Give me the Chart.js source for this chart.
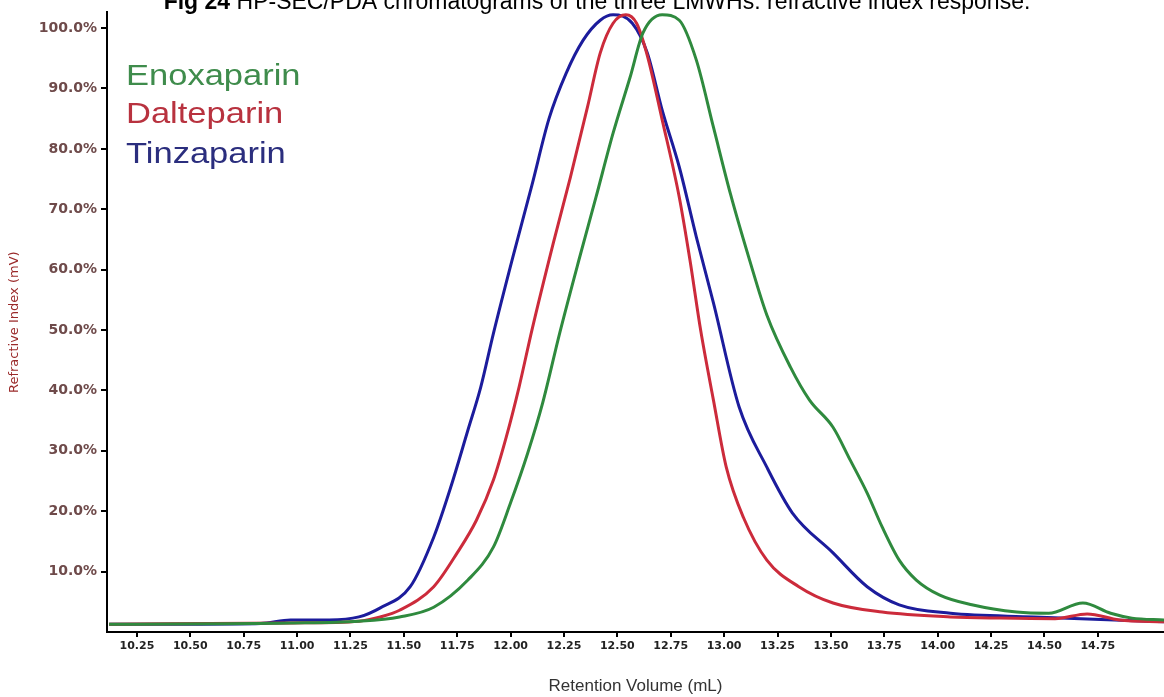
<!DOCTYPE html>
<html>
<head>
<meta charset="utf-8">
<script src="https://cdn.jsdelivr.net/npm/chart.js@4/dist/chart.umd.min.js"></script>
<style>
  body { margin: 0; background: #fff; }
  #wrap { position: relative; width: 1164px; height: 697px; overflow: hidden; }
</style>
</head>
<body>
<div id="wrap"><canvas id="chart" width="1164" height="697"></canvas></div>
<script>
// retention volume (mL) and RI response (% of max)
const enoxVolume = [10.12, 10.97, 11.29, 11.48, 11.64, 11.80, 11.92, 12.00, 12.08, 12.15, 12.23, 12.32, 12.40, 12.48, 12.56, 12.62, 12.71, 12.79, 12.87, 12.95, 13.03, 13.12, 13.20, 13.31, 13.40, 13.51, 13.59, 13.67, 13.74, 13.82, 13.90, 14.01, 14.16, 14.37, 14.52, 14.68, 14.81, 14.91, 15.06];
const enoxSignal = [1.3, 1.5, 1.8, 2.5, 4.1, 8.6, 14.1, 21.4, 29.6, 37.9, 49.5, 61.6, 72, 82.6, 91.9, 99.2, 102.2, 101.3, 94.7, 83.6, 72.5, 61.5, 52.5, 43.9, 38.4, 33.9, 28.5, 23, 17.4, 11.9, 8.6, 6.1, 4.5, 3.3, 3.1, 4.8, 3.1, 2.3, 2.0];

const daltVolume = [10.12, 10.97, 11.29, 11.39, 11.48, 11.64, 11.75, 11.84, 11.92, 11.98, 12.04, 12.10, 12.20, 12.28, 12.36, 12.42, 12.48, 12.54, 12.59, 12.64, 12.71, 12.79, 12.84, 12.89, 12.95, 13.01, 13.09, 13.20, 13.35, 13.51, 13.74, 14.06, 14.29, 14.55, 14.70, 14.85, 15.06];
const daltSignal = [1.3, 1.5, 1.8, 2.5, 3.6, 7.5, 13.1, 18.5, 25.2, 32.3, 40.6, 50, 64.4, 75.3, 86.9, 95.9, 100.8, 102.2, 100.8, 95.5, 84.8, 72, 61.6, 50, 38.4, 27.3, 19, 11.9, 7.5, 4.8, 3.3, 2.5, 2.3, 2.2, 3.0, 2.0, 1.7];

const tinzVolume = [10.12, 10.55, 10.83, 10.97, 11.15, 11.29, 11.39, 11.53, 11.64, 11.72, 11.80, 11.86, 11.92, 12.01, 12.10, 12.18, 12.26, 12.34, 12.42, 12.48, 12.57, 12.64, 12.71, 12.79, 12.87, 12.95, 13.07, 13.20, 13.32, 13.51, 13.67, 13.82, 14.06, 14.45, 15.06];
const tinzSignal = [1.3, 1.3, 1.4, 2.0, 2.0, 2.5, 4.0, 7.5, 15.7, 24, 33.4, 40.5, 49.5, 62, 74, 85, 92.5, 98, 101.3, 102.2, 100.8, 95.9, 86.4, 77, 65.4, 54.5, 37.3, 27.3, 19.7, 13.1, 7.5, 4.5, 3.1, 2.5, 1.7];

const xTickValues = [10.25, 10.5, 10.75, 11.0, 11.25, 11.5, 11.75, 12.0, 12.25, 12.5, 12.75, 13.0, 13.25, 13.5, 13.75, 14.0, 14.25, 14.5, 14.75];
const yTickValues = [10, 20, 30, 40, 50, 60, 70, 80, 90, 100];

const seriesNames = ["Enoxaparin", "Dalteparin", "Tinzaparin"];
const lineColors = ["#2f8a3e", "#cc2b3b", "#1c1c9c"];
const labelColors = ["#3f8c4c", "#b8323f", "#2b2e7e"];

function toPoints(xs, ys) {
  return xs.map((x, i) => ({ x: x, y: ys[i] }));
}

// title + text legend, drawn straight on the canvas
const textPlugin = {
  id: "texts",
  afterDraw(chart) {
    const ctx = chart.ctx;
    ctx.save();
    ctx.textBaseline = "alphabetic";
    ctx.textAlign = "left";
    ctx.fillStyle = "#000";
    const a = "Fig 24 ";
    const b = "HP-SEC/PDA chromatograms of the three LMWHs: refractive index response.";
    ctx.font = "bold 23px 'Liberation Sans', Arial";
    const wa = ctx.measureText(a).width;
    ctx.font = "23px 'Liberation Sans', Arial";
    const wb = ctx.measureText(b).width;
    const x0 = 597 - (wa + wb) / 2;
    ctx.font = "bold 23px 'Liberation Sans', Arial";
    ctx.fillText(a, x0, 9);
    ctx.font = "23px 'Liberation Sans', Arial";
    ctx.fillText(b, x0 + wa, 9);

    const base = [85, 123, 163];
    ctx.font = "30px 'Liberation Sans', Arial";
    seriesNames.forEach((name, i) => {
      ctx.save();
      ctx.translate(126, base[i]);
      ctx.scale(1.15, 1);
      ctx.fillStyle = labelColors[i];
      ctx.fillText(name, 0, 0);
      ctx.restore();
    });
    ctx.restore();
  }
};

new Chart(document.getElementById("chart"), {
  type: "scatter",
  data: {
    datasets: [
      { label: seriesNames[0], data: toPoints(enoxVolume, enoxSignal), borderColor: lineColors[0] },
      { label: seriesNames[1], data: toPoints(daltVolume, daltSignal), borderColor: lineColors[1] },
      { label: seriesNames[2], data: toPoints(tinzVolume, tinzSignal), borderColor: lineColors[2] }
    ]
  },
  options: {
    responsive: false,
    animation: false,
    layout: { padding: { top: 12, left: 0, right: 0, bottom: 0 } },
    elements: {
      line: { borderWidth: 3, cubicInterpolationMode: "monotone", fill: false },
      point: { radius: 0, hoverRadius: 0 }
    },
    datasets: { scatter: { showLine: true } },
    plugins: {
      legend: { display: false },
      tooltip: { enabled: false },
      title: { display: false }
    },
    scales: {
      x: {
        type: "linear",
        min: 10.11,
        max: 15.06,
        afterBuildTicks: s => { s.ticks = xTickValues.map(v => ({ value: v })); },
        afterFit: s => { s.height = 65; },
        border: { color: "#000", width: 2 },
        grid: { drawOnChartArea: false, drawTicks: true, tickLength: 5, color: "#000", lineWidth: 2 },
        ticks: {
          autoSkip: false,
          maxRotation: 0,
          padding: 3,
          color: "#222",
          font: { family: "'DejaVu Sans'", size: 11, weight: "bold" },
          callback: v => v.toFixed(2)
        },
        title: {
          display: true,
          text: "Retention Volume (mL)",
          color: "#333",
          font: { family: "'Liberation Sans', Arial", size: 17 },
          padding: { top: 0, bottom: 0 }
        }
      },
      y: {
        min: 0,
        max: 102.6,
        afterBuildTicks: s => { s.ticks = yTickValues.map(v => ({ value: v })); },
        afterFit: s => { s.width = 107; },
        border: { color: "#000", width: 2 },
        grid: { drawOnChartArea: false, drawTicks: true, tickLength: 6, color: "#000", lineWidth: 2 },
        ticks: {
          padding: 4,
          color: "#6e4a4a",
          font: { family: "'DejaVu Sans'", size: 14, weight: "bold" },
          callback: v => v.toFixed(1) + "%"
        },
        title: {
          display: true,
          text: "Refractive Index (mV)",
          color: "#9a2a2a",
          font: { family: "'DejaVu Sans'", size: 13 },
          padding: { top: 7, bottom: 0 }
        }
      }
    }
  },
  plugins: [textPlugin]
});
</script>
</body>
</html>
